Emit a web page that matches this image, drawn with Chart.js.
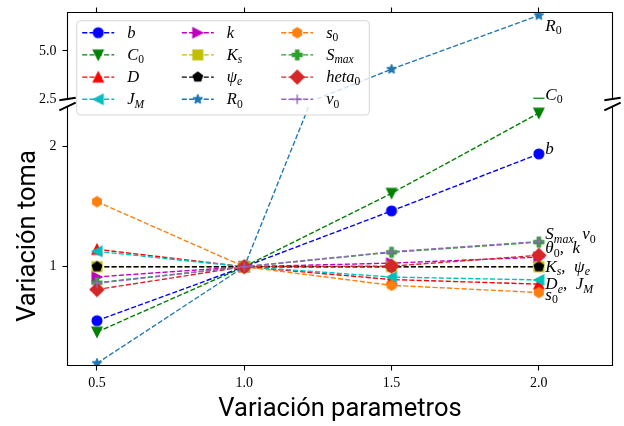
<!DOCTYPE html>
<html><head><meta charset="utf-8">
<script src="https://cdn.jsdelivr.net/npm/chart.js@4.4.1/dist/chart.umd.min.js"></script>
<style>html,body{margin:0;padding:0;background:#fff;overflow:hidden}#wrap{width:624px;height:426px;position:relative}</style>
</head><body><div id="wrap"><canvas id="c" width="624" height="426"></canvas></div>
<script>
// ---------------- data ----------------
const categories = [0.5, 1.0, 1.5, 2.0];
const xTickValues = [0.5, 1.0, 1.5, 2.0];
const xTickLabels = ['0.5', '1.0', '1.5', '2.0'];
const yLowTickValues = [1, 2];
const yLowTickLabels = ['1', '2'];
const yUpTickValues = [2.5, 5.0];
const yUpTickLabels = ['2.5', '5.0'];

const b     = [0.55, 1, 1.465, 1.94];
const C0    = [0.456, 1, 1.612, 2.28];
const D     = [1.145, 1, 0.893, 0.855];
const J_M   = [1.128, 1, 0.914, 0.89];
const k     = [0.915, 1, 1.03, 1.08];
const K_s   = [1, 1, 1, 1];
const psi_e = [1, 1, 1, 1];
const R0    = [0.195, 1, 4.05, 6.85];
const s0    = [1.542, 1, 0.845, 0.785];
const S_max = [0.867, 1, 1.12, 1.205];
const heta0 = [0.81, 1, 1.005, 1.095];
const v0    = [0.862, 1, 1.125, 1.21];

const seriesValues = [b, C0, D, J_M, k, K_s, psi_e, R0, s0, S_max, heta0, v0];
const legendLabels = [
  [['b','i']], [['C','i'],['0','sr']], [['D','i']], [['J','i'],['M','si']],
  [['k','i']], [['K','i'],['s','si']], [['ψ','i'],['e','si']], [['R','i'],['0','sr']],
  [['s','i'],['0','sr']], [['S','i'],['max','si']], [['heta','i'],['0','sr']], [['v','i'],['0','sr']]
];
// annotation texts at x = 2.0
const annotTexts = [
  [['R','i'],['0','sr']],
  [['C','i'],['0','sr']],
  [['b','i']],
  [['S','i'],['max','si'],['  v','i'],['0','sr']],
  [['θ','i'],['0','sr'],[',  ','r'],['k','i']],
  [['K','i'],['s','si'],[',  ','r'],['ψ','i'],['e','si']],
  [['D','i'],['e','si'],[',  ','r'],['J','i'],['M','si']],
  [['s','i'],['0','sr']]
];
const annotSeries = [7, 1, 0, 9, 10, 5, 2, 8];

// ---------------- styles ----------------
const SERIF = "'Liberation Serif', 'Times New Roman', serif";
const seriesColors = ['#0000ff','#008000','#ff0000','#00bfbf','#bf00bf','#bfbf00','#000000','#1f77b4','#ff7f0e','#2ca02c','#d62728','#9467bd'];
const seriesMarkers = ['o','v','^','<','>','s','p','*','h','P','D','+'];
const annotPanels = ['yUp','yUp','yLow','yLow','yLow','yLow','yLow','yLow'];
const annotDy = [15.3, -3.2, 0, -2.8, -2, 5, 5.2, 7.5];
const MS = 9.7, EW = 1.39, LW = 1.39, DASH = [5.1, 2.2];
const UP_H = 86.5, GAP = 7.5;

Chart.defaults.font.family = SERIF;

function makeMarker(shape, color) {
  const r = MS / 2;
  const ext = (shape === 'D' ? r * Math.SQRT2 : r) + EW;
  const half = Math.ceil(ext) + 2;
  const cv = document.createElement('canvas');
  cv.width = cv.height = half * 2;
  const g = cv.getContext('2d');
  g.translate(half, half);
  g.fillStyle = color; g.strokeStyle = color; g.lineWidth = EW; g.lineJoin = 'miter';
  const poly = (pts, s) => { g.beginPath(); pts.forEach(([px, py], i) => i ? g.lineTo(px * s, py * s) : g.moveTo(px * s, py * s)); g.closePath(); };
  const ngon = (n, inner) => {
    const pts = []; const m = inner ? n * 2 : n;
    for (let i = 0; i < m; i++) { const a = -Math.PI / 2 + i * 2 * Math.PI / m; const rr = inner && (i % 2) ? inner : 1; pts.push([Math.cos(a) * rr, Math.sin(a) * rr]); }
    return pts;
  };
  if (shape === '+') { g.beginPath(); g.moveTo(-r, 0); g.lineTo(r, 0); g.moveTo(0, -r); g.lineTo(0, r); g.stroke(); return cv; }
  if (shape === 'o') { g.beginPath(); g.arc(0, 0, r, 0, Math.PI * 2); }
  else if (shape === 'v') poly([[0,1],[-1,-1],[1,-1]], r);
  else if (shape === '^') poly([[0,-1],[-1,1],[1,1]], r);
  else if (shape === '<') poly([[-1,0],[1,-1],[1,1]], r);
  else if (shape === '>') poly([[1,0],[-1,-1],[-1,1]], r);
  else if (shape === 's') poly([[-1,-1],[1,-1],[1,1],[-1,1]], r);
  else if (shape === 'D') poly([[0,-1],[1,0],[0,1],[-1,0]], r * Math.SQRT2);
  else if (shape === 'p') poly(ngon(5), r);
  else if (shape === 'h') poly(ngon(6), r);
  else if (shape === '*') { g.lineJoin = 'bevel'; poly(ngon(5, 0.381966), r); }
  else if (shape === 'P') poly([[-1,-3],[1,-3],[1,-1],[3,-1],[3,1],[1,1],[1,3],[-1,3],[-1,1],[-3,1],[-3,-1],[-1,-1]], r / 3);
  g.fill(); g.stroke();
  return cv;
}
const markerImgs = seriesMarkers.map((m, i) => makeMarker(m, seriesColors[i]));

function drawRich(ctx, parts, x, y, size) {
  let cx = x;
  ctx.textBaseline = 'alphabetic'; ctx.textAlign = 'left'; ctx.fillStyle = '#000';
  for (const [t, st] of parts) {
    const sub = st === 'si' || st === 'sr';
    const it = st === 'i' || st === 'si';
    const fs = sub ? size * 0.7 : size;
    ctx.font = (it ? 'italic ' : '') + fs.toFixed(2) + 'px ' + SERIF;
    ctx.fillText(t, cx, y + (sub ? size * 0.2 : 0));
    cx += ctx.measureText(t).width;
  }
}

const datasets = [];
seriesValues.forEach((vals, i) => {
  ['yLow', 'yUp'].forEach(ax => {
    datasets.push({
      data: categories.map((x, j) => ({x: x, y: vals[j]})),
      xAxisID: 'x', yAxisID: ax,
      borderColor: seriesColors[i], backgroundColor: seriesColors[i],
      borderWidth: LW, borderDash: DASH, tension: 0, fill: false,
      pointStyle: markerImgs[i], pointRadius: 5, pointHoverRadius: 5,
      order: -i
    });
  });
});

const panelPlugin = {
  id: 'panel',
  afterLayout(chart) {
    const ca = chart.chartArea;
    const up = chart.scales.yUp, low = chart.scales.yLow;
    up.left = low.left; up.right = low.right; up.width = low.width;
    up.top = ca.top; up.bottom = ca.top + UP_H; up.height = UP_H;
    low.top = ca.top + UP_H + GAP; low.bottom = ca.bottom; low.height = low.bottom - low.top;
    up.configure(); low.configure();
  },
  beforeDatasetDraw(chart, args) {
    const ds = chart.data.datasets[args.index];
    const sc = chart.scales[ds.yAxisID];
    const ca = chart.chartArea, ctx = chart.ctx;
    ctx.save(); ctx.beginPath(); ctx.rect(ca.left, sc.top, ca.right - ca.left, sc.bottom - sc.top); ctx.clip();
  },
  afterDatasetDraw(chart) { chart.ctx.restore(); },
  afterDatasetsDraw(chart) {
    const ctx = chart.ctx, ca = chart.chartArea;
    const up = chart.scales.yUp, low = chart.scales.yLow, xs = chart.scales.x;
    ctx.save();
    ctx.strokeStyle = '#000'; ctx.lineWidth = 1.1; ctx.setLineDash([]);
    ctx.beginPath();
    ctx.moveTo(ca.left, up.bottom); ctx.lineTo(ca.left, up.top); ctx.lineTo(ca.right, up.top); ctx.lineTo(ca.right, up.bottom);
    ctx.moveTo(ca.left, low.top); ctx.lineTo(ca.left, low.bottom); ctx.lineTo(ca.right, low.bottom); ctx.lineTo(ca.right, low.top);
    ctx.stroke();
    // break marks
    const W = ca.right - ca.left, d = 0.015;
    ctx.lineWidth = 2;
    ctx.beginPath();
    [ca.left, ca.right].forEach(x => {
      ctx.moveTo(x - d * W, up.bottom + d * (up.bottom - up.top)); ctx.lineTo(x + d * W, up.bottom - d * (up.bottom - up.top));
      ctx.moveTo(x - d * W, low.top + d * (low.bottom - low.top)); ctx.lineTo(x + d * W, low.top - d * (low.bottom - low.top));
    });
    ctx.stroke();
    // annotations
    annotTexts.forEach((parts, i) => {
      const si = annotSeries[i];
      const sc = chart.scales[annotPanels[i]];
      const px = xs.getPixelForValue(categories[3]) + 6.5;
      const py = sc.getPixelForValue(seriesValues[si][3]) + annotDy[i];
      drawRich(ctx, parts, px, py, 17);
    });
    ctx.restore();
  },
  afterDraw(chart) {
    const ctx = chart.ctx;
    ctx.save();
    const L = {x: 76.7, y: 20.7, w: 292.6, h: 94.3, r: 3.5};
    ctx.beginPath();
    ctx.roundRect(L.x, L.y, L.w, L.h, L.r);
    ctx.fillStyle = 'rgba(255,255,255,0.8)'; ctx.fill();
    ctx.strokeStyle = 'rgba(204,204,204,0.8)'; ctx.lineWidth = 1; ctx.stroke();
    const colX = [98.2, 197.8, 297.2], rowY = [32.7, 54.9, 77.1, 99.3];
    seriesValues.forEach((v, i) => {
      const cx = colX[Math.floor(i / 4)], cy = rowY[i % 4];
      ctx.beginPath(); ctx.setLineDash(DASH); ctx.lineWidth = LW; ctx.strokeStyle = seriesColors[i];
      ctx.moveTo(cx - 16, cy); ctx.lineTo(cx + 16, cy); ctx.stroke();
      ctx.setLineDash([]);
      const img = markerImgs[i];
      ctx.drawImage(img, cx - img.width / 2, cy - img.height / 2);
      drawRich(ctx, legendLabels[i], cx + 29, cy + 5, 16.5);
    });
    ctx.restore();
  }
};

const tickFont = {family: SERIF, size: 14, style: 'normal', weight: 'normal'};
const gridOpts = {display: true, drawOnChartArea: false, drawTicks: true, tickLength: 5, tickWidth: 1.1, tickColor: '#000', color: '#000'};
function zeroPad(s) { s.paddingLeft = 0; s.paddingRight = 0; s.paddingTop = 0; s.paddingBottom = 0; }

new Chart(document.getElementById('c'), {
  type: 'line',
  data: {datasets: datasets},
  plugins: [panelPlugin],
  options: {
    responsive: false, animation: false, devicePixelRatio: 1, events: [],
    layout: {padding: {left: 0, top: 12.5, right: 11.5, bottom: 0}},
    plugins: {legend: {display: false}, tooltip: {enabled: false}},
    scales: {
      x: {
        type: 'linear', position: 'bottom', min: 0.4, max: 2.25,
        grid: gridOpts, border: {display: false},
        afterBuildTicks: s => { s.ticks = xTickValues.map(v => ({value: v})); },
        afterFit: s => { s.height = 60.5; zeroPad(s); },
        ticks: {autoSkip: false, maxRotation: 0, font: tickFont, color: '#000', padding: 4,
          callback: (v, i) => xTickLabels[i]},
        title: {display: true, text: 'Variación parametros', color: '#000',
          font: {family: 'Roboto', size: 25.5}, padding: {top: 0, bottom: 1.5}}
      },
      xTop: {
        type: 'linear', position: 'top', min: 0.4, max: 2.25,
        grid: gridOpts, border: {display: false},
        afterBuildTicks: s => { s.ticks = xTickValues.map(v => ({value: v})); },
        afterFit: s => { s.height = 0; zeroPad(s); },
        ticks: {display: false}
      },
      yLow: {
        type: 'linear', position: 'left', min: 0.177, max: 2.335,
        grid: gridOpts, border: {display: false},
        afterBuildTicks: s => { s.ticks = yLowTickValues.map(v => ({value: v})); },
        afterFit: s => { s.width = 67.5; zeroPad(s); },
        ticks: {autoSkip: false, font: tickFont, color: '#000', padding: 6,
          callback: (v, i) => yLowTickLabels[i]},
        title: {display: true, text: 'Variación toma', color: '#000',
          font: {family: 'Roboto', size: 25.5}, padding: {top: 13.4, bottom: 0}}
      },
      yUp: {
        type: 'linear', position: 'left', min: 2.5, max: 7,
        grid: gridOpts, border: {display: false},
        afterBuildTicks: s => { s.ticks = yUpTickValues.map(v => ({value: v})); },
        afterFit: s => { s.width = 0; zeroPad(s); },
        ticks: {autoSkip: false, font: tickFont, color: '#000', padding: 6,
          callback: (v, i) => yUpTickLabels[i]}
      }
    }
  }
});
</script></body></html>
